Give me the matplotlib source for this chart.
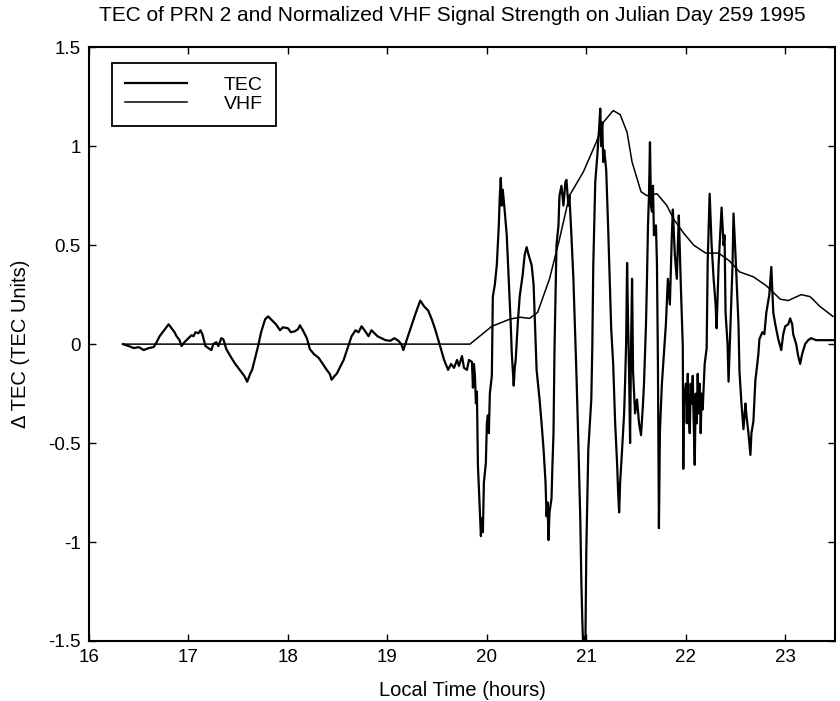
import matplotlib
matplotlib.use('Agg')
import matplotlib.pyplot as plt

plt.rcParams['font.family'] = ['Liberation Sans', 'DejaVu Sans']

# Delta TEC (noisy trace)
tec_hours = [16.34, 16.40, 16.45, 16.50, 16.55, 16.60, 16.65, 16.68, 16.71, 16.74,
             16.77, 16.80, 16.83, 16.86, 16.88, 16.91, 16.93, 16.96, 17.00, 17.03,
             17.05, 17.07, 17.10, 17.12, 17.14, 17.17, 17.20, 17.23, 17.25, 17.28,
             17.30, 17.33, 17.35, 17.38, 17.42, 17.47, 17.50, 17.53, 17.56, 17.59,
             17.62, 17.64, 17.67, 17.70, 17.73, 17.77, 17.80, 17.84, 17.88, 17.92,
             17.95, 18.00, 18.03, 18.07, 18.10, 18.12, 18.15, 18.19, 18.22, 18.26,
             18.31, 18.35, 18.39, 18.42, 18.44, 18.47, 18.49, 18.53, 18.56, 18.60,
             18.64, 18.68, 18.71, 18.74, 18.77, 18.81, 18.84, 18.86, 18.90, 18.94,
             18.98, 19.03, 19.07, 19.11, 19.14, 19.16, 19.20, 19.23, 19.28, 19.33,
             19.37, 19.41, 19.45, 19.48, 19.53, 19.57, 19.61, 19.64, 19.67, 19.70,
             19.72, 19.75, 19.77, 19.80, 19.82, 19.85, 19.86, 19.87, 19.88, 19.89,
             19.90, 19.91, 19.93, 19.94, 19.95, 19.96, 19.97, 19.99, 20.00, 20.01,
             20.02, 20.03, 20.05, 20.06, 20.08, 20.10, 20.12, 20.13, 20.14, 20.15,
             20.16, 20.18, 20.20, 20.22, 20.24, 20.25, 20.27, 20.28, 20.29, 20.31,
             20.33, 20.36, 20.38, 20.40, 20.42, 20.45, 20.47, 20.48, 20.50, 20.53,
             20.55, 20.57, 20.59, 20.60, 20.61, 20.62, 20.63, 20.65, 20.66, 20.67,
             20.68, 20.70, 20.72, 20.73, 20.75, 20.77, 20.79, 20.80, 20.82, 20.83,
             20.85, 20.87, 20.90, 20.92, 20.94, 20.95, 20.96, 20.97, 20.98, 20.99,
             21.00, 21.02, 21.05, 21.06, 21.07, 21.09, 21.11, 21.13, 21.14, 21.15,
             21.16, 21.17, 21.18, 21.20, 21.22, 21.25, 21.27, 21.29, 21.31, 21.32,
             21.33, 21.34, 21.36, 21.38, 21.39, 21.40, 21.41, 21.42, 21.43, 21.44,
             21.45, 21.46, 21.47, 21.49, 21.51, 21.53, 21.55, 21.57, 21.58, 21.60,
             21.61, 21.62, 21.63, 21.64, 21.65, 21.66, 21.67, 21.68, 21.70, 21.71,
             21.72, 21.725, 21.73, 21.74, 21.76, 21.78, 21.80, 21.82, 21.84, 21.86,
             21.87, 21.89, 21.91, 21.92, 21.93, 21.95, 21.97, 21.975, 21.98, 22.00,
             22.01, 22.02, 22.03, 22.04, 22.05, 22.06, 22.07, 22.08, 22.09, 22.10,
             22.11, 22.12, 22.13, 22.14, 22.15, 22.16, 22.17, 22.19, 22.21, 22.22,
             22.24, 22.26, 22.28, 22.30, 22.31, 22.33, 22.36, 22.38, 22.39, 22.40,
             22.42, 22.43, 22.45, 22.47, 22.48, 22.50, 22.51, 22.53, 22.54, 22.56,
             22.58, 22.60, 22.61, 22.63, 22.65, 22.66, 22.68, 22.70, 22.71, 22.73,
             22.74, 22.77, 22.79, 22.81, 22.84, 22.86, 22.88, 22.90, 22.93, 22.96,
             22.98, 23.00, 23.03, 23.05, 23.07, 23.08, 23.11, 23.13, 23.15, 23.17,
             23.20, 23.23, 23.26, 23.31, 23.40, 23.50]
tec_values = [0.00, -0.01, -0.02, -0.015, -0.03, -0.02, -0.015, 0.01, 0.04, 0.06,
              0.08, 0.10, 0.08, 0.06, 0.04, 0.02, -0.01, 0.01, 0.03, 0.045,
              0.04, 0.06, 0.055, 0.07, 0.05, -0.01, -0.02, -0.03, 0.00, 0.01,
              -0.01, 0.03, 0.025, -0.025, -0.06, -0.10, -0.12, -0.14, -0.16, -0.19,
              -0.15, -0.13, -0.07, -0.01, 0.06, 0.125, 0.14, 0.12, 0.10, 0.07,
              0.085, 0.08, 0.06, 0.065, 0.075, 0.095, 0.07, 0.03, -0.025, -0.05,
              -0.07, -0.10, -0.13, -0.15, -0.18, -0.16, -0.15, -0.11, -0.08, -0.02,
              0.04, 0.07, 0.06, 0.09, 0.07, 0.04, 0.07, 0.06, 0.04, 0.03,
              0.02, 0.017, 0.03, 0.017, 0.00, -0.03, 0.03, 0.075, 0.15, 0.22,
              0.19, 0.17, 0.12, 0.075, -0.01, -0.08, -0.13, -0.10, -0.12, -0.08,
              -0.11, -0.06, -0.12, -0.13, -0.08, -0.09, -0.22, -0.10, -0.16, -0.30,
              -0.24, -0.61, -0.85, -0.97, -0.88, -0.95, -0.70, -0.60, -0.40, -0.36,
              -0.45, -0.25, -0.16, 0.24, 0.30, 0.40, 0.60, 0.75, 0.84, 0.70,
              0.78, 0.67, 0.55, 0.33, 0.10, -0.04, -0.21, -0.12, -0.08, 0.10,
              0.24, 0.35, 0.45, 0.49, 0.45, 0.40, 0.30, 0.16, -0.13, -0.28,
              -0.40, -0.53, -0.70, -0.87, -0.80, -0.99, -0.85, -0.78, -0.60, -0.45,
              -0.03, 0.50, 0.60, 0.75, 0.80, 0.70, 0.82, 0.83, 0.70, 0.75,
              0.55, 0.33, -0.14, -0.50, -0.90, -1.20, -1.40, -1.55, -1.48, -1.55,
              -1.04, -0.53, -0.28, -0.02, 0.40, 0.82, 0.95, 1.10, 1.19, 1.00,
              1.12, 0.92, 0.98, 0.88, 0.58, 0.08, -0.10, -0.40, -0.61, -0.75,
              -0.85, -0.70, -0.53, -0.35, -0.19, 0.00, 0.41, 0.10, -0.14, -0.50,
              0.00, 0.33, -0.14, -0.35, -0.28, -0.40, -0.46, -0.30, -0.20, 0.10,
              0.33, 0.60, 0.75, 1.02, 0.70, 0.67, 0.80, 0.55, 0.60, 0.41,
              -0.10, -0.53, -0.93, -0.44, -0.20, -0.05, 0.10, 0.33, 0.20, 0.55,
              0.68, 0.45, 0.33, 0.50, 0.65, 0.30, -0.01, -0.63, -0.30, -0.20,
              -0.40, -0.15, -0.35, -0.45, -0.20, -0.30, -0.16, -0.40, -0.61, -0.25,
              -0.40, -0.15, -0.35, -0.20, -0.45, -0.25, -0.33, -0.10, -0.02, 0.41,
              0.76, 0.50, 0.33, 0.20, 0.08, 0.40, 0.69, 0.50, 0.55, 0.16,
              0.00, -0.19, 0.10, 0.40, 0.66, 0.45, 0.33, 0.10, -0.14, -0.30,
              -0.43, -0.30, -0.36, -0.45, -0.56, -0.45, -0.39, -0.18, -0.14, -0.05,
              0.025, 0.06, 0.05, 0.16, 0.25, 0.39, 0.16, 0.10, 0.025, -0.03,
              0.05, 0.09, 0.10, 0.13, 0.10, 0.05, 0.00, -0.06, -0.10, -0.05,
              0.00, 0.02, 0.03, 0.02, 0.02, 0.02]

# Normalized VHF signal strength (smooth trace)
vhf_hours = [16.34, 19.83, 20.05, 20.23, 20.33, 20.43, 20.51, 20.63, 20.73, 20.83,
             20.97, 21.10, 21.17, 21.27, 21.34, 21.41, 21.46, 21.55, 21.61, 21.71,
             21.81, 21.88, 21.98, 22.08, 22.20, 22.33, 22.44, 22.54, 22.68, 22.81,
             22.95, 23.03, 23.16, 23.25, 23.35, 23.48]
vhf_values = [0.00, 0.00, 0.09, 0.126, 0.136, 0.13, 0.16, 0.33, 0.53, 0.75,
              0.87, 1.02, 1.12, 1.18, 1.16, 1.07, 0.92, 0.77, 0.75, 0.76,
              0.70, 0.63, 0.56, 0.50, 0.46, 0.46, 0.42, 0.365, 0.34, 0.295,
              0.227, 0.22, 0.25, 0.24, 0.19, 0.14]

fig = plt.figure(figsize=(8.4, 7.01), dpi=100)
ax = fig.add_axes([0.106, 0.0856, 0.888, 0.847])

ax.plot(tec_hours, tec_values, color='black', linewidth=1.6, label='TEC')
ax.plot(vhf_hours, vhf_values, color='black', linewidth=1.1, label='VHF')

ax.set_xlim(16, 23.5)
ax.set_ylim(-1.5, 1.5)
ax.set_xticks([16, 17, 18, 19, 20, 21, 22, 23])
ax.set_yticks([-1.5, -1, -0.5, 0, 0.5, 1, 1.5])
ax.set_yticklabels(['-1.5', '-1', '-0.5', '0', '0.5', '1', '1.5'])
ax.tick_params(direction='in', top=True, right=True, length=5, width=1,
               labelsize=13.5, pad=6)
for s in ax.spines.values():
    s.set_linewidth(1.5)

ax.set_xlabel('Local Time (hours)', fontsize=14.5)
ax.xaxis.set_label_coords(0.5, -0.083)
ax.xaxis.label.set_va('center')
ax.set_ylabel('\u0394 TEC (TEC Units)', fontsize=14.5)
ax.yaxis.set_label_coords(-0.0925, 0.5)
ax.yaxis.label.set_va('center')

fig.text(0.539, 0.978, 'TEC of PRN 2 and Normalized VHF Signal Strength on Julian Day 259 1995',
         ha='center', va='center', fontsize=15)

leg = ax.legend(loc='upper left', bbox_to_anchor=(0.031, 0.973), borderaxespad=0,
                fancybox=False, edgecolor='black', framealpha=1, fontsize=14,
                handlelength=3.2, handletextpad=1.9, borderpad=0.65, labelspacing=0.1)
leg.get_frame().set_linewidth(1.3)

fig.savefig('out.png', dpi=100)
